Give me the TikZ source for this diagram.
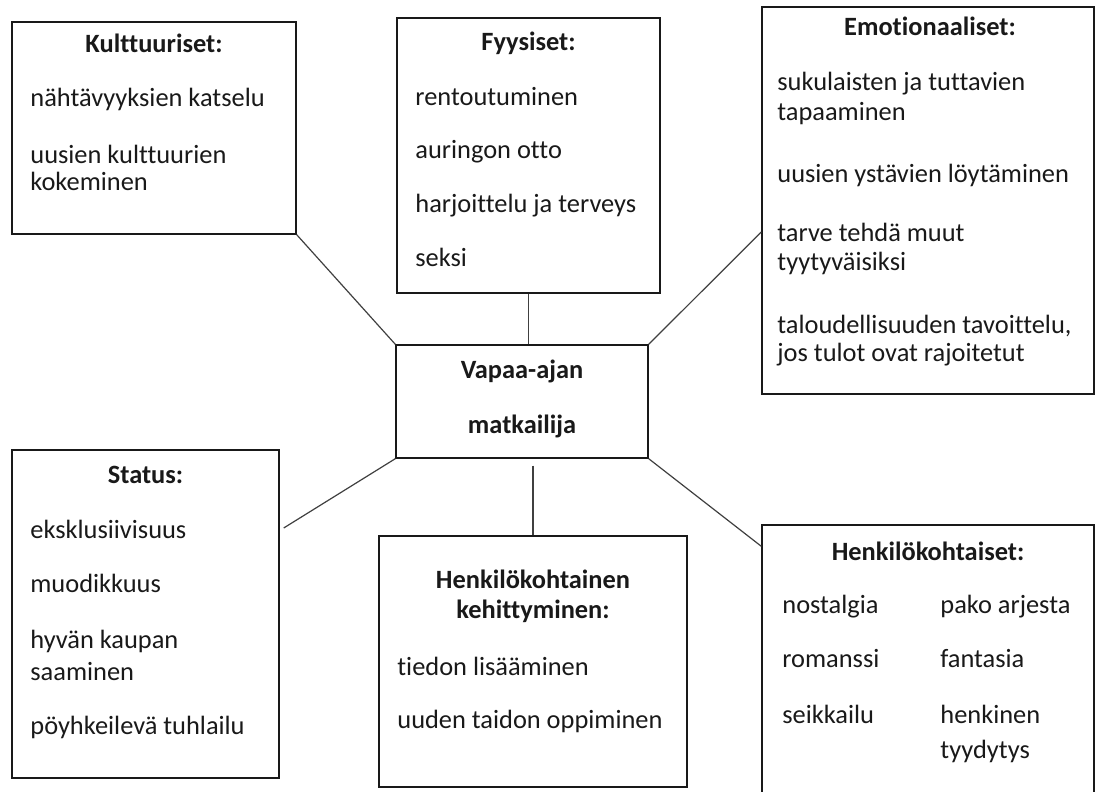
\documentclass[tikz,border=0pt]{standalone}
\usepackage{fontspec}
\setmainfont{Carlito}[Ligatures={CommonOff}]
\usetikzlibrary{calc}
\tikzset{
  box/.style={draw=black!90, line width=0.7pt, inner sep=0pt, rectangle},
  conn/.style={draw=black!75, line width=0.6pt},
  txt/.style={anchor=base west, inner sep=0pt, text=black!90, font=\fontsize{13.2}{15}\selectfont},
  ttl/.style={anchor=base, inner sep=0pt, text=black!90, font=\fontsize{13.2}{15}\selectfont\bfseries},
}
\begin{document}
\begin{tikzpicture}[x=0.5pt,y=-0.5pt]
\clip (0,0) rectangle (1103,792);
\fill[white] (0,0) rectangle (1103,792);

% boxes
\node[box, minimum width=142pt, minimum height=106pt] (kult) at (154,128) {};
\node[box, minimum width=131.5pt, minimum height=137.5pt] (fyys) at (528.5,155.5) {};
\node[box, minimum width=166pt, minimum height=193.5pt] (emot) at (928,200.5) {};
\node[box, minimum width=126pt, minimum height=56.5pt] (cent) at (522,401.5) {};
\node[box, minimum width=133.5pt, minimum height=164pt] (stat) at (145.5,614) {};
\node[box, minimum width=154pt, minimum height=125.5pt] (keh) at (533,661.5) {};
\node[box, minimum width=166pt, minimum height=137.5pt] (henk) at (928,662.5) {};

% Kulttuuriset
\node[ttl] (k0) at (154,53) {Kulttuuriset:};
\node[txt] (k1) at (30,107) {nähtävyyksien katselu};
\node[txt] (k2) at (30,163) {uusien kulttuurien};
\node[txt] (k3) at (30,191) {kokeminen};

% Fyysiset
\node[ttl] (f0) at (528.5,51) {Fyysiset:};
\node[txt] (f1) at (415,105) {rentoutuminen};
\node[txt] (f2) at (415,158) {auringon otto};
\node[txt] (f3) at (415,213) {harjoittelu ja terveys};
\node[txt] (f4) at (415,266) {seksi};

% Emotionaaliset
\node[ttl] (e0) at (930,36) {Emot\kern0pt ionaaliset:};
\node[txt] (e1) at (777,91) {sukulaisten ja tuttavien};
\node[txt] (e2) at (777,120) {tapaaminen};
\node[txt] (e3) at (777,183) {uusien ystävien löytäminen};
\node[txt] (e4) at (777,241) {tarve tehdä muut};
\node[txt] (e5) at (777,270) {tyytyväisiksi};
\node[txt] (e6) at (777,333) {taloudellisuuden tavoittelu,};
\node[txt] (e7) at (777,361) {jos tulot ovat rajoitetut};

% Central
\node[ttl] (c1) at (522,378) {Vapaa-ajan};
\node[ttl] (c2) at (522,433) {matkailija};

% Status
\node[ttl] (s0) at (145.5,483) {Status:};
\node[txt] (s1) at (30,538) {eksklusiivisuus};
\node[txt] (s2) at (30,592) {muodikkuus};
\node[txt] (s3) at (30,648) {hyvän kaupan};
\node[txt] (s4) at (30,680) {saaminen};
\node[txt] (s5) at (30,734) {pöyhkeilevä tuhlailu};

% Henkilökohtainen kehittyminen
\node[ttl] (h0) at (533,588) {Henkilökohtainen};
\node[ttl] (h1) at (533,618) {kehittyminen:};
\node[txt] (h2) at (397,675) {t\kern0pt iedon lisääminen};
\node[txt] (h3) at (397,728) {uuden taidon oppiminen};

% Henkilökohtaiset
\node[ttl] (p0) at (928,560) {Henkilökohtaiset:};
\node[txt] (p1) at (782,613) {nostalgia};
\node[txt] (p2) at (782,667) {romanssi};
\node[txt] (p3) at (782,723) {seikkailu};
\node[txt] (p4) at (940,613) {pako arjesta};
\node[txt] (p5) at (940,667) {fantasia};
\node[txt] (p6) at (940,723) {henkinen};
\node[txt] (p7) at (940,758) {tyydytys};

% connectors
\coordinate (emotin) at ($(emot.west)+(0,31.5)$);
\coordinate (statin) at ($(stat.east)+(4,-86)$);
\coordinate (henkin) at ($(henk.north west)+(0,22)$);
\coordinate (kehtop) at ($(keh.north |- cent.south)+(0,7)$);
\draw[conn] (kult.south east) -- (cent.north west);
\draw[conn] (fyys.south) -- (fyys.south |- cent.north);
\draw[conn] (emotin) -- (cent.north east);
\draw[conn] (statin) -- (cent.south west);
\draw[conn] (kehtop) -- (keh.north);
\draw[conn] (cent.south east) -- (henkin);
\end{tikzpicture}
\end{document}
